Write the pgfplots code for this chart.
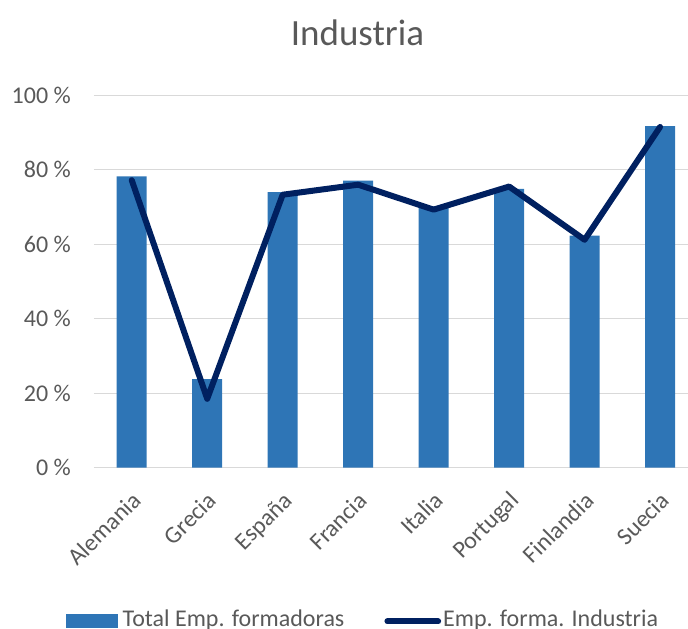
\documentclass[border=0pt]{standalone}
\usepackage{fontspec}
\setmainfont{Carlito}
\usepackage{pgfplots}
\pgfplotsset{compat=1.18}
\definecolor{barblue}{HTML}{2E75B6}
\definecolor{navyline}{HTML}{002060}
\definecolor{txtgray}{HTML}{595959}
\definecolor{gridgray}{HTML}{D9D9D9}
\begin{document}
\begin{tikzpicture}[x=1pt,y=1pt]
\path[use as bounding box] (-94,-161.3) rectangle (594,467.7);
\begin{axis}[
 scale only axis, width=594pt, height=372.4pt,
 xmin=-0.5, xmax=7.37, ymin=0, ymax=100,
 axis x line*=bottom, axis y line*=left, axis line style={draw=none},
 major tick length=0pt,
 ytick={0,20,...,100},
 ymajorgrids, grid style={gridgray, line width=1.3pt},
 yticklabel={\pgfmathprintnumber{\tick} \%},
 /pgf/number format/assume math mode=true,
 ticklabel style={font=\fontsize{24}{28}\selectfont, text=txtgray},
 y tick label style={anchor=east, inner sep=0pt, xshift=-23pt},
 xtick={0,...,7},
 xticklabels={Alemania,Grecia,España,Francia,Italia,Portugal,Finlandia,Suecia},
 x tick label style={inner sep=0pt, xshift=10.9pt, yshift=-34.2pt, rotate=45, anchor=base east},
 title={Industria},
 title style={font=\fontsize{37}{42}\selectfont, text=txtgray, at={(axis description cs:0.4436,1.1165)}, anchor=base},
 legend columns=2,
 legend cell align=left,
 legend style={draw=none, fill=none, at={(axis description cs:-0.0471,-0.4065)}, anchor=west, inner sep=0pt,
   font=\fontsize{24}{28}\selectfont, text=txtgray,
   nodes={inner sep=0pt},
   /tikz/column 1/.style={column sep=4.5pt},
   /tikz/column 2/.style={column sep=40pt},
   /tikz/column 3/.style={column sep=2pt}},
]
\addplot[ybar, bar width=30pt, bar shift=0pt, fill=barblue, draw=none,
  legend image code/.code={\fill[barblue] (0pt,-9pt) rectangle (52pt,5pt);}]
  coordinates {(0,78.2) (1,23.8) (2,74.0) (3,77.1) (4,70.2) (5,74.9) (6,62.3) (7,91.7)};
\addlegendentry{Total Emp. formadoras}
\addplot[navyline, line width=6pt, line cap=round, line join=round, sharp plot, mark=none,
  legend image code/.code={\draw[navyline, line width=6pt, line cap=round] (3pt,-2.3pt) -- (53.7pt,-2.3pt);}]
  coordinates {(0,77.2) (1,18.5) (2,73.3) (3,76.0) (4,69.3) (5,75.5) (6,61.2) (7,91.5)};
\addlegendentry{Emp. forma. Industria}
\end{axis}
\end{tikzpicture}
\end{document}
